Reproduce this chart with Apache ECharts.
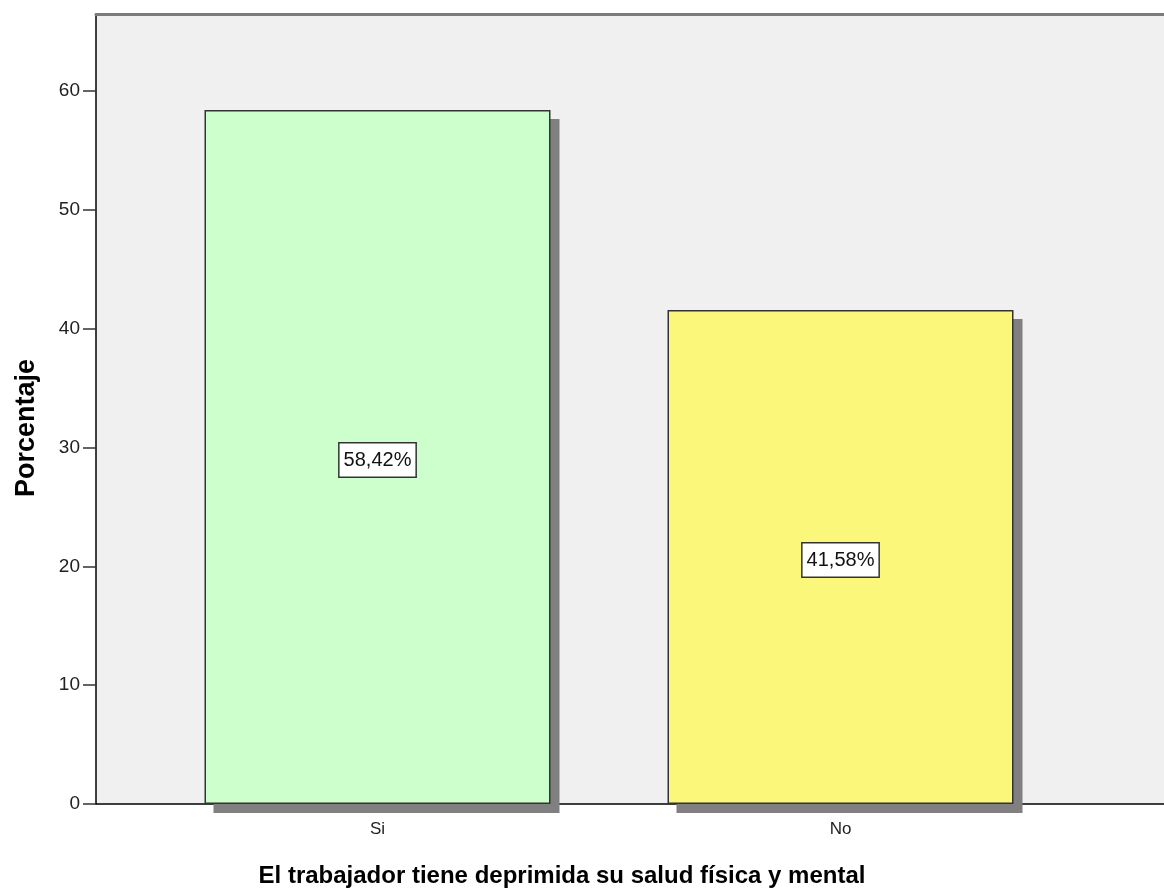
<!DOCTYPE html>
<html>
<head>
<meta charset="utf-8">
<style>
  html, body { margin: 0; padding: 0; background: #fff; }
  #chart { width: 1164px; height: 893px; }
</style>
<script src="https://cdn.jsdelivr.net/npm/echarts@6/dist/echarts.min.js"></script>
</head>
<body>
<div id="chart"></div>
<script>
// data
const categories = ['Si', 'No']
const percentages = [58.42, 41.58]
const barColors = ['#ccffcc', '#fbf77b']
const yTicks = [0, 10, 20, 30, 40, 50, 60]
const yName = 'Porcentaje'
const xName = 'El trabajador tiene deprimida su salud física y mental'

const font = '"Liberation Sans", Arial, sans-serif'
const chart = echarts.init(document.getElementById('chart'))

const option = {
  animation: false,
  grid: [
    // frame: background, y axis, bottom line
    { left: 96, right: 0, top: 14, bottom: 89, show: true, backgroundColor: '#f0f0f0', borderWidth: 0 },
    // bars sit in a narrower band, like SPSS does
    { left: 146, width: 926, top: 14, bottom: 89 },
    // same band moved 9px right/down for the drop shadow
    { left: 155, width: 926, top: 23, bottom: 80 }
  ],
  xAxis: [
    {
      gridIndex: 0, type: 'value', min: 0, max: 1, position: 'bottom',
      axisLine: { show: true, lineStyle: { color: '#000', width: 1.5 } },
      axisTick: { show: false }, axisLabel: { show: false }, splitLine: { show: false }
    },
    {
      gridIndex: 0, type: 'value', min: 0, max: 1, position: 'top',
      axisLine: { show: true, lineStyle: { color: '#7c7c7c', width: 3 } },
      axisTick: { show: false }, axisLabel: { show: false }, splitLine: { show: false }
    },
    {
      gridIndex: 1, type: 'category', data: categories,
      axisLine: { show: false },
      axisTick: { show: false },
      axisLabel: { margin: 17, fontSize: 17, color: '#222', fontFamily: font }
    },
    { gridIndex: 2, type: 'category', data: categories, show: false }
  ],
  yAxis: [
    {
      gridIndex: 0, type: 'value', min: 0, max: 66.5, interval: 10,
      axisLine: { show: true, lineStyle: { color: '#000', width: 1.5 } },
      axisTick: { show: true, length: 13, customValues: yTicks, lineStyle: { color: '#333', width: 1.5 } },
      axisLabel: { margin: 16, fontSize: 19, color: '#222', fontFamily: font, customValues: yTicks },
      splitLine: { show: false }
    },
    { gridIndex: 1, type: 'value', min: 0, max: 66.5, show: false },
    { gridIndex: 2, type: 'value', min: 0, max: 66.5, show: false }
  ],
  graphic: [
    {
      type: 'text', x: 562, y: 876,
      style: { text: xName, textAlign: 'center', textVerticalAlign: 'middle',
        font: 'bold 24px ' + font, fill: '#000' }
    },
    {
      type: 'text', x: 27, y: 428, rotation: Math.PI / 2,
      style: { text: yName, textAlign: 'center', textVerticalAlign: 'middle',
        font: 'bold 27px ' + font, fill: '#000' }
    }
  ],
  series: [
    {
      type: 'bar',
      xAxisIndex: 3,
      yAxisIndex: 2,
      barWidth: 346,
      clip: false,
      z: 1,
      silent: true,
      data: percentages,
      itemStyle: { color: '#808080' }
    },
    {
      type: 'bar',
      xAxisIndex: 2,
      yAxisIndex: 1,
      barWidth: 346,
      clip: false,
      z: 3,
      data: percentages.map((v, i) => ({ value: v, itemStyle: { color: barColors[i] } })),
      itemStyle: { borderColor: '#333', borderWidth: 1.5 },
      label: {
        show: true, position: 'inside', offset: [0, 3],
        formatter: p => p.value.toFixed(2).replace('.', ',') + '%',
        fontSize: 20, color: '#111', fontFamily: font,
        backgroundColor: '#fff', borderColor: '#333', borderWidth: 1.5,
        padding: [7, 4, 6, 4]
      }
    }
  ]
}

chart.setOption(option)
</script>
</body>
</html>
